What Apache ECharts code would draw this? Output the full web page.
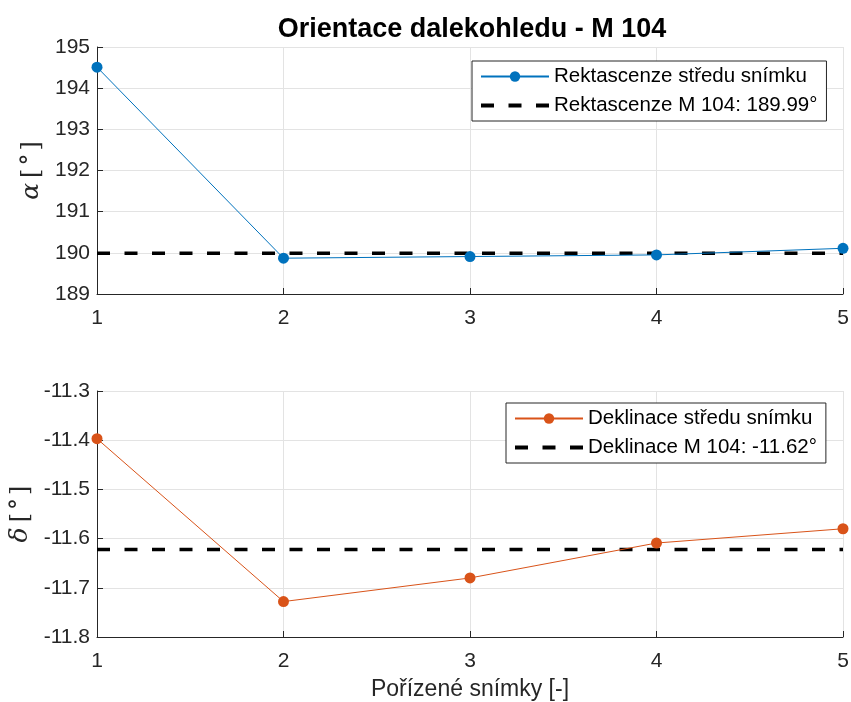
<!DOCTYPE html>
<html>
<head>
<meta charset="utf-8">
<script src="https://cdn.jsdelivr.net/npm/echarts@6/dist/echarts.min.js"></script>
<style>html,body{margin:0;padding:0;background:#fff}#c{width:851px;height:702px}</style>
</head>
<body>
<div id="c"></div>
<script>
const frames = [1, 2, 3, 4, 5];
const raValues = [194.51, 189.87, 189.91, 189.95, 190.11];
const raRef = 189.99;
const decValues = [-11.397, -11.728, -11.680, -11.609, -11.580];
const decRef = -11.622;
const raName = 'Rektascenze středu snímku';
const raRefName = 'Rektascenze M 104: 189.99°';
const decName = 'Deklinace středu snímku';
const decRefName = 'Deklinace M 104: -11.62°';
const titleText = 'Orientace dalekohledu - M 104';
const xLabel = 'Pořízené snímky [-]';

const FONT = '"Liberation Sans", Helvetica, Arial, sans-serif';
const SERIF = '"DejaVu Serif", "Liberation Serif", serif';
const TXT = '#262626';
const GRIDC = '#e3e3e3';
const BLUE = '#0072BD';
const ORANGE = '#D95319';
const DASH_ICON = 'path://M0,0h13v4h-13z M27.5,0h13v4h-13z M55,0h13v4h-13z';

const pairs = (ys) => frames.map((x, i) => [x, ys[i]]);
const flat = (v) => frames.map(x => [x, v]);

function xAxis(idx, withName) {
  return {
    gridIndex: idx, type: 'value', min: 1, max: 5, interval: 1,
    name: withName ? xLabel : '', nameLocation: 'middle', nameGap: 41,
    nameTextStyle: { fontFamily: FONT, fontSize: 23, color: TXT },
    axisLine: { show: true, onZero: false, lineStyle: { color: TXT, width: 1 } },
    axisTick: { show: true, inside: true, length: 6, lineStyle: { color: TXT } },
    axisLabel: { fontFamily: FONT, fontSize: 21, color: TXT, margin: 14 },
    splitLine: { show: true, lineStyle: { color: GRIDC, width: 1 } }
  };
}
function yAxis(idx, min, max, interval, nm, dec) {
  return {
    gridIndex: idx, type: 'value', min: min, max: max, interval: interval,
    name: nm, nameLocation: 'middle', nameGap: dec ? 63 : 46,
    nameTextStyle: { fontFamily: SERIF, fontSize: 24, color: TXT,
      rich: {
        g: { fontFamily: SERIF, fontStyle: 'italic', fontSize: 25, color: TXT, padding: [0, 5, 0, 0] },
        b: { fontFamily: SERIF, fontSize: 24, color: TXT },
        d: { fontFamily: SERIF, fontSize: 24, color: TXT, padding: [0, 3, 0, 3] }
      } },
    axisLine: { show: true, lineStyle: { color: TXT, width: 1 } },
    axisTick: { show: true, inside: true, length: 6, lineStyle: { color: TXT } },
    axisLabel: { fontFamily: FONT, fontSize: 21, color: TXT, margin: 7,
      formatter: (v) => dec ? v.toFixed(1) : String(Math.round(v)) },
    splitLine: { show: true, lineStyle: { color: GRIDC, width: 1 } }
  };
}
function dataSeries(name, ys, color, idx) {
  return {
    name: name, type: 'line', xAxisIndex: idx, yAxisIndex: idx,
    data: pairs(ys), symbol: 'circle', symbolSize: 11,
    lineStyle: { color: color, width: 1 }, itemStyle: { color: color },
    z: 3, animation: false
  };
}
function refSeries(name, v, idx) {
  return {
    name: name, type: 'line', xAxisIndex: idx, yAxisIndex: idx,
    data: flat(v), symbol: 'none', showSymbol: false,
    lineStyle: { color: '#000', width: 3.5, type: [13, 14.5] },
    itemStyle: { color: '#000' }, z: 2, animation: false
  };
}
function legend(names, left, top) {
  return {
    data: [{ name: names[0] }, { name: names[1], icon: DASH_ICON, itemStyle: { color: '#000' } }],
    orient: 'vertical', left: left, top: top,
    itemWidth: 68, itemHeight: 13, itemGap: 8, symbolKeepAspect: true,
    padding: [5, 9, 5, 8],
    backgroundColor: '#fff', borderColor: TXT, borderWidth: 1,
    textStyle: { fontFamily: FONT, fontSize: 20.5, color: '#000' },
    selectedMode: false
  };
}

const chart = echarts.init(document.getElementById('c'), null, { renderer: 'canvas' });
chart.setOption({
  animation: false,
  backgroundColor: '#fff',
  title: {
    text: titleText, left: 467, textAlign: 'center', top: 11,
    textStyle: { fontFamily: FONT, fontSize: 27, fontWeight: 'bold', color: '#000' }
  },
  legend: [legend([raName, raRefName], 472, 61), legend([decName, decRefName], 506, 403)],
  grid: [
    { left: 97, right: 8, top: 47, height: 247, containLabel: false, outerBoundsMode: 'none' },
    { left: 97, right: 8, top: 391, height: 246, containLabel: false, outerBoundsMode: 'none' }
  ],
  xAxis: [xAxis(0, false), xAxis(1, true)],
  yAxis: [
    yAxis(0, 189, 195, 1, '{g|α}{b|[}{d|°}{b|]}', false),
    yAxis(1, -11.8, -11.3, 0.1, '{g|δ}{b|[}{d|°}{b|]}', true)
  ],
  series: [
    dataSeries(raName, raValues, BLUE, 0),
    refSeries(raRefName, raRef, 0),
    dataSeries(decName, decValues, ORANGE, 1),
    refSeries(decRefName, decRef, 1)
  ]
});
</script>
</body>
</html>
